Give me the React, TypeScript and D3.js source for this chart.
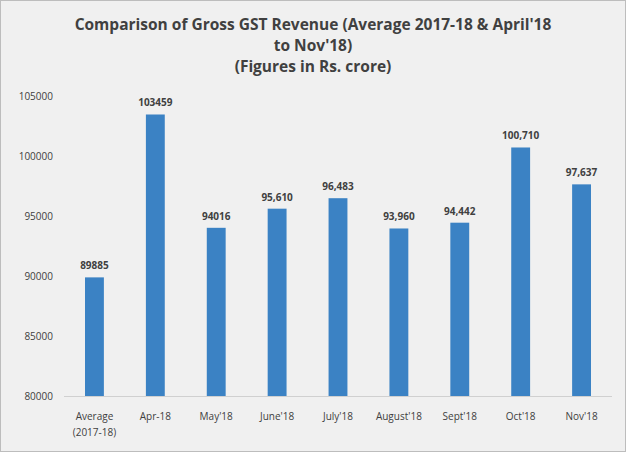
import React from "react";
import * as d3 from "d3";

const categories = ["Average\n(2017-18)", "Apr-18", "May'18", "June'18", "July'18", "August'18", "Sept'18", "Oct'18", "Nov'18"];
const values = [89885, 103459, 94016, 95610, 96483, 93960, 94442, 100710, 97637];
const labels = ["89885", "103459", "94016", "95,610", "96,483", "93,960", "94,442", "100,710", "97,637"];
const yTicks = [80000, 85000, 90000, 95000, 100000, 105000];
const titleLines = ["Comparison of Gross GST Revenue (Average 2017-18 & April'18", "to Nov'18)", "(Figures in Rs. crore)"];

export default function App() {
  const W = 626, H = 452;
  const x = d3.scaleBand().domain(categories).range([64, 612]).paddingInner(0.69).paddingOuter(0.345);
  const y = d3.scaleLinear().domain([80000, 105000]).range([396, 96]);
  const font = "'Open Sans', 'DejaVu Sans', sans-serif";
  return (
    <svg width={W} height={H} style={{ position: "absolute", left: 0, top: 0 }} fontFamily={font}>
      <rect x={0.5} y={0.5} width={W - 1} height={H - 1} fill="#f0f0f0" stroke="#bdbdbd" />
      {titleLines.map((t, i) => (
        <text key={i} x={W / 2} y={30 + i * 21} textAnchor="middle" fontSize={15.5} fontWeight="bold" fill="#404040">{t}</text>
      ))}
      {yTicks.map(t => (
        <text key={t} x={53} y={y(t) + 4} textAnchor="end" fontSize={10} fill="#404040">{t}</text>
      ))}
      <line x1={64} x2={612} y1={396.5} y2={396.5} stroke="#d0d0d0" />
      {values.map((v, i) => {
        const c = categories[i];
        const bx = x(c)!;
        return (
          <g key={c}>
            <rect x={bx} y={y(v)} width={x.bandwidth()} height={396 - y(v)} fill="#3b82c4" />
            <text x={bx + x.bandwidth() / 2} y={y(v) - 8} textAnchor="middle" fontSize={10} fontWeight="bold" fill="#404040">{labels[i]}</text>
            {c.split("\n").map((s, j) => (
              <text key={j} x={bx + x.bandwidth() / 2} y={420 + j * 16} textAnchor="middle" fontSize={10} fill="#404040">{s}</text>
            ))}
          </g>
        );
      })}
    </svg>
  );
}
